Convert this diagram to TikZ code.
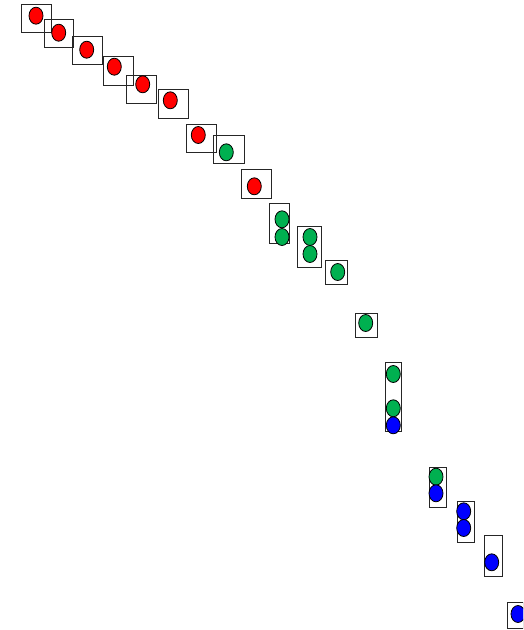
\documentclass[tikz,border=0pt]{standalone}
\usetikzlibrary{shapes.geometric}
\definecolor{dotred}{RGB}{255,0,0}
\definecolor{dotgreen}{RGB}{0,176,80}
\definecolor{dotblue}{RGB}{0,0,255}
\tikzset{
  cell/.style={draw=black!85, line width=0.9pt, rectangle, inner sep=0pt, minimum width=#1},
  cell/.default=30pt,
  dot/.style={draw=black, line width=0.8pt, ellipse, inner sep=0pt, minimum width=14pt, minimum height=17pt, fill=#1},
}
\begin{document}
\begin{tikzpicture}[x=1pt,y=-1pt]
\useasboundingbox (0,0) rectangle (523,630);
\begin{scope}
\clip (0,0) rectangle (523,630);
% boxes
\node[cell=30pt, minimum height=28pt] (b1) at (36,18) {};
\node[cell=29.7pt, minimum height=28.7pt] (b2) at (58.8,33.3) {};
\node[cell=29.7pt, minimum height=28.7pt] (b3) at (87.2,50.3) {};
\node[cell=29.6pt, minimum height=28.3pt] (b4) at (118.5,70.8) {};
\node[cell=30.4pt, minimum height=28pt] (b5) at (141.5,89.7) {};
\node[cell=30.3pt, minimum height=28.3pt] (b6) at (173.2,103.8) {};
\node[cell=30.3pt, minimum height=28.7pt] (b7) at (201.2,138.3) {};
\node[cell=30.3pt, minimum height=28.7pt] (b8) at (228.8,149.3) {};
\node[cell=30pt, minimum height=28.7pt] (b9) at (256.7,183.7) {};
\node[cell=19.6pt, minimum height=39.3pt] (b10) at (279.5,223.3) {};
\node[cell=24pt, minimum height=41pt] (b11) at (309.7,246.5) {};
\node[cell=22.4pt, minimum height=24.3pt] (b12) at (336.5,272.2) {};
\node[cell=21.7pt, minimum height=24.7pt] (b13) at (366.2,325.3) {};
\node[cell=16pt, minimum height=69pt] (b14) at (393,396.8) {};
\node[cell=17.4pt, minimum height=40.4pt] (b15) at (438,487.5) {};
\node[cell=17.3pt, minimum height=40.7pt] (b16) at (465.7,521.7) {};
\node[cell=17.6pt, minimum height=40.6pt] (b17) at (493.5,556) {};
\node[cell=16pt, minimum height=26pt] (b18) at (515.5,615) {};
% dots
\node[dot=dotred] (c1) at (36,15.7) {};
\node[dot=dotred] (c2) at (58.7,32.7) {};
\node[dot=dotred] (c3) at (86.7,49.7) {};
\node[dot=dotred] (c4) at (114.3,66.7) {};
\node[dot=dotred] (c5) at (142.7,84.3) {};
\node[dot=dotred] (c6) at (170.3,100.3) {};
\node[dot=dotred] (c7) at (198.3,135) {};
\node[dot=dotgreen] (c8) at (226.3,152.3) {};
\node[dot=dotred] (c9) at (254.3,186.3) {};
\node[dot=dotgreen] (c10a) at (282,219.3) {};
\node[dot=dotgreen] (c10b) at (282,237) {};
\node[dot=dotgreen] (c11a) at (310,237) {};
\node[dot=dotgreen] (c11b) at (310,254) {};
\node[dot=dotgreen] (c12) at (337.7,272) {};
\node[dot=dotgreen] (c13) at (365.7,323) {};
\node[dot=dotgreen] (c14a) at (393.3,374) {};
\node[dot=dotgreen] (c14b) at (393.3,408.3) {};
\node[dot=dotblue] (c14c) at (393.3,425.3) {};
\node[dot=dotgreen] (c15a) at (436,476.7) {};
\node[dot=dotblue] (c15b) at (436,493.3) {};
\node[dot=dotblue] (c16a) at (463.7,511.3) {};
\node[dot=dotblue] (c16b) at (463.7,528) {};
\node[dot=dotblue] (c17) at (491.7,562.3) {};
\node[dot=dotblue] (c18) at (518,614) {};
\end{scope}
\end{tikzpicture}
\end{document}
